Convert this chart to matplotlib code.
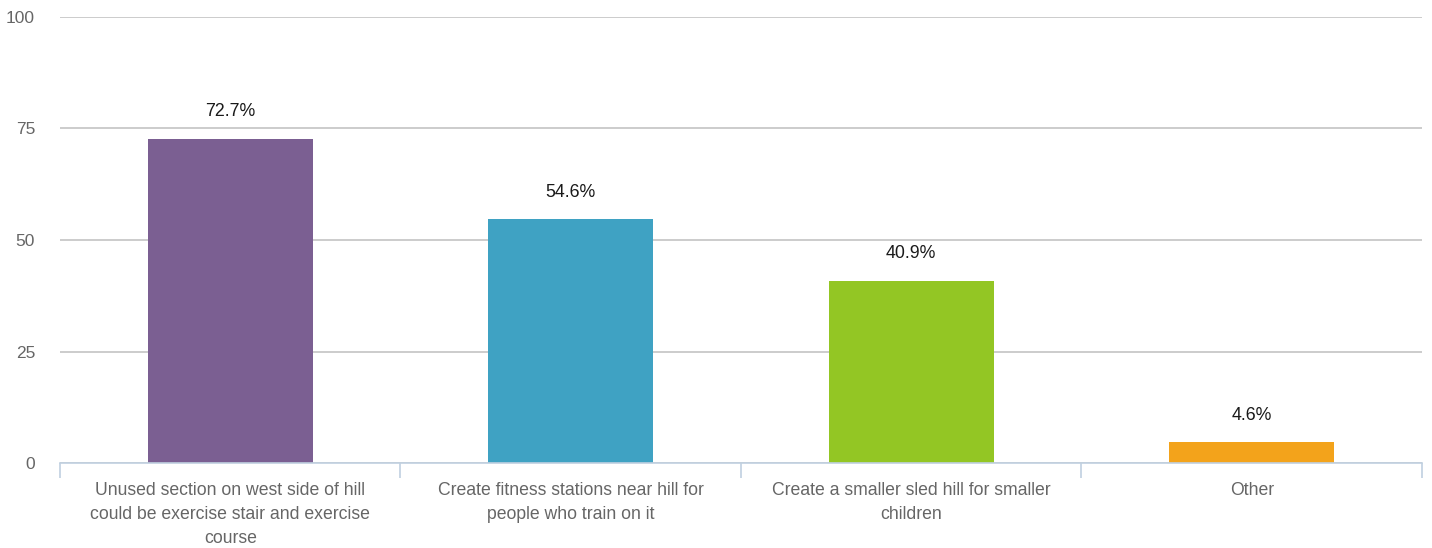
import matplotlib.pyplot as plt
import numpy as np

categories = [
    'Unused section on west side of hill\ncould be exercise stair and exercise\ncourse',
    'Create fitness stations near hill for\npeople who train on it',
    'Create a smaller sled hill for smaller\nchildren',
    'Other',
]
values = [72.7, 54.6, 40.9, 4.6]
colors = ['#7b5f92', '#3fa2c3', '#93c624', '#f3a31b']
yticks = [0, 25, 50, 75, 100]

plt.rcParams['font.family'] = ['Liberation Sans', 'DejaVu Sans']

fig = plt.figure(figsize=(14.32, 5.48), dpi=100)
ax = fig.add_axes([0.0419, 0.1551, 0.9511, 0.8139])

x = np.arange(len(categories))
bars = ax.bar(x, values, width=0.485, color=colors, zorder=3)

for xi, v in zip(x, values):
    ax.annotate(f'{v:.1f}%', (xi, v), xytext=(0, 13.5), textcoords='offset points',
                ha='center', va='bottom', fontsize=12.8, color='#1a1a1a')

ax.set_xlim(-0.5, len(categories) - 0.5)
ax.set_ylim(0, 100)
ax.set_yticks(yticks)
ax.set_yticklabels([str(t) for t in yticks])
ax.yaxis.grid(True, color='#c4c4c4', linewidth=1.2, zorder=0)
ax.tick_params(axis='y', length=0, pad=18, labelsize=12.5, labelcolor='#666666')

ax.set_xticks(x)
ax.set_xticklabels(categories)
ax.tick_params(axis='x', which='major', length=0, pad=13.5, labelsize=12.7, labelcolor='#666666')
ax.set_xticks(np.arange(-0.5, len(categories)), minor=True)
ax.tick_params(axis='x', which='minor', length=11, width=1.2, color='#c0d0e0', direction='out')
for lbl in ax.get_xticklabels():
    lbl.set_linespacing(1.55)

for side in ['top', 'right', 'left']:
    ax.spines[side].set_visible(False)
ax.spines['bottom'].set_color('#c0d0e0')
ax.spines['bottom'].set_linewidth(1.2)
ax.spines['bottom'].set_zorder(4)

fig.savefig('out.png', dpi=100)
